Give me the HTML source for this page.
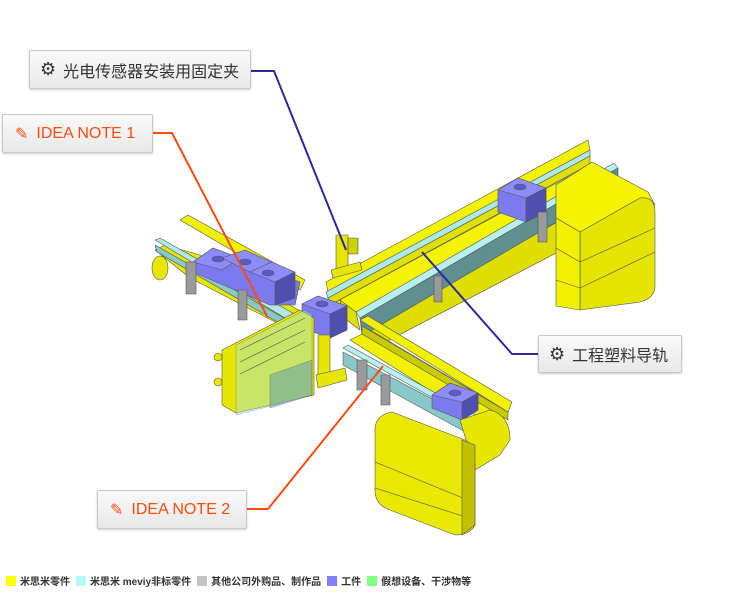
<!DOCTYPE html>
<html><head><meta charset="utf-8">
<style>
html,body{margin:0;padding:0;background:#fff;}
body{width:740px;height:609px;position:relative;overflow:hidden;font-family:"Liberation Sans","Noto Sans CJK SC",sans-serif;}
.box{position:absolute;box-sizing:border-box;border:1px solid #c8c8c8;border-radius:2px;background:linear-gradient(#fafafa,#e8e8e8);box-shadow:0 1px 2px rgba(0,0,0,.2);font-size:16px;color:#333;display:flex;align-items:center;}
.legend{position:absolute;left:6px;top:573px;font-size:10px;font-weight:bold;color:#333;display:flex;align-items:center;white-space:nowrap;}
.legend i{display:inline-block;width:10px;height:10px;margin-right:4px;}
.legend span{margin-right:6px;display:flex;align-items:center;}
</style></head><body>
<svg width="740" height="609" style="position:absolute;left:0;top:0" stroke-linejoin="round">
<g stroke="#555" stroke-width="0.6">
<polygon points="362,332 575,212 585,220 585,238 374,348" fill="#dede00"/>
<polygon points="326,282 588,140 590,150 328,292" fill="#f2f200"/>
<polygon points="326,292 590,150 590,156 328,298" fill="#aee8e8"/>
<polygon points="328,298 590,156 590,164 330,305" fill="#e0e000"/>
<polygon points="336,302 588,166 612,172 356,312" fill="#f4f400"/>
<polygon points="340,300 356,312 360,330 344,318" fill="#e0e000"/>
<polygon points="356,312 614,163 618,168 360,318" fill="#b8f0f0"/>
<polygon points="360,318 618,168 618,186 362,336" fill="#5f8f8f"/>
<polygon points="556,185 592,162 648,192 655,205 580,232 556,218" fill="#f4f400"/>
<path d="M580,232 L640,198 Q655,196 655,212 L655,286 Q655,298 640,302 L580,310 Z" fill="#e4e400"/>
<polygon points="556,218 580,232 580,310 556,306" fill="#f0f000"/>
<polyline points="580,262 655,228" fill="none"/>
<polyline points="580,288 655,252" fill="none"/>
<polyline points="556,248 580,262" fill="none"/>
<polyline points="556,280 580,288" fill="none"/>
<polygon points="498,190 518,178 546,188 546,212 526,222 498,212" fill="#7b7bef"/>
<polygon points="498,190 518,178 546,188 526,198" fill="#8c8cff"/>
<polygon points="526,198 546,188 546,212 526,222" fill="#4f4fb0"/>
<ellipse cx="520" cy="187" rx="6" ry="3" fill="#5a5ac8"/>
<rect x="538" y="212" width="9" height="30" fill="#9a9a9a"/>
<rect x="434" y="276" width="8" height="26" fill="#9a9a9a"/>
<polygon points="180,220 188,215 305,280 300,290" fill="#f0f000"/>
<polygon points="155,250 165,245 200,255 320,322 310,340 190,278" fill="#e6e600"/>
<ellipse cx="160" cy="268" rx="8" ry="12" fill="#e6e600"/>
<polygon points="155,240 160,238 305,320 300,327" fill="#aee8e8"/>
<polygon points="155,245 300,327 300,335 157,252" fill="#88c8c8"/>
<polygon points="193,262 213,248 300,282 295,305 270,305 193,272" fill="#7b7bef"/>
<polygon points="193,262 213,248 240,258 222,270" fill="#8c8cff"/>
<polygon points="222,258 245,250 272,262 250,272" fill="#8c8cff"/>
<polygon points="250,272 272,262 295,272 275,282" fill="#8c8cff"/>
<polygon points="275,282 295,272 295,298 275,305" fill="#4f4fb0"/>
<ellipse cx="218" cy="259" rx="6" ry="3" fill="#5a5ac8"/>
<ellipse cx="245" cy="262" rx="6" ry="3" fill="#5a5ac8"/>
<ellipse cx="268" cy="273" rx="6" ry="3" fill="#5a5ac8"/>
<rect x="186" y="262" width="10" height="32" fill="#9a9a9a"/>
<rect x="238" y="290" width="9" height="30" fill="#9a9a9a"/>
<polygon points="302,304 318,296 347,306 347,330 330,338 302,328" fill="#7b7bef"/>
<polygon points="302,304 318,296 347,306 330,314" fill="#8c8cff"/>
<polygon points="330,314 347,306 347,330 330,338" fill="#4f4fb0"/>
<ellipse cx="322" cy="304" rx="6" ry="3" fill="#5a5ac8"/>
<rect x="336" y="235" width="12" height="35" fill="#e6e600"/>
<rect x="348" y="238" width="10" height="16" fill="#d0d000"/>
<polygon points="331,270 360,262 362,270 333,278" fill="#e6e600"/>
<polygon points="350,340 370,330 505,410 485,425" fill="#f0f000"/>
<polygon points="360,320 368,316 512,402 508,412" fill="#f0f000"/>
<polygon points="362,326 508,412 508,420 362,334" fill="#c9c900"/>
<polygon points="343,348 348,345 485,420 480,424" fill="#b8f0f0"/>
<polygon points="343,352 480,424 480,440 343,365" fill="#88c8c8"/>
<rect x="357" y="360" width="10" height="30" fill="#9a9a9a"/>
<rect x="381" y="375" width="9" height="30" fill="#9a9a9a"/>
<polygon points="432,395 450,383 478,393 478,410 462,420 432,408" fill="#7b7bef"/>
<polygon points="432,395 450,383 478,393 462,402" fill="#8c8cff"/>
<polygon points="462,402 478,393 478,410 462,420" fill="#4f4fb0"/>
<ellipse cx="455" cy="393" rx="6" ry="3" fill="#5a5ac8"/>
<path d="M460,420 L490,410 Q510,415 510,440 L500,455 L475,470 Z" fill="#e6e600"/>
<path d="M375,430 Q375,415 392,412 L465,440 Q475,445 475,465 L475,525 Q470,535 455,535 L390,510 Q375,505 375,490 Z" fill="#e8e800"/>
<polyline points="375,462 475,503" fill="none"/>
<polyline points="375,488 475,520" fill="none"/>
<polygon points="462,440 475,445 475,525 462,535" fill="#c0c000"/>
<polygon points="222,350 300,310 314,318 314,395 236,413 222,405" fill="#e6e600"/>
<polygon points="236,345 305,310 312,314 312,395 236,415" fill="#a8e4e4" opacity="0.45"/>
<polygon points="270,375 312,360 312,395 270,408" fill="#6fa5a5" opacity="0.6"/>
<line x1="240" y1="350" x2="305" y2="318"/>
<line x1="240" y1="362" x2="305" y2="330"/>
<line x1="240" y1="374" x2="305" y2="342"/>
<circle cx="218" cy="357" r="4" fill="#e6e600"/>
<circle cx="218" cy="382" r="4" fill="#e6e600"/>
<rect x="318" y="335" width="12" height="40" fill="#e6e600"/>
<polygon points="316,375 345,368 347,380 318,388" fill="#e6e600"/>
</g>
<polyline points="251,71 274,71 346,250" fill="none" stroke="#2a2a9a" stroke-width="2"/>
<polyline points="153,133 172,133 268,318" fill="none" stroke="#ff4a10" stroke-width="2"/>
<polyline points="538,354 512,354 422,252" fill="none" stroke="#2a2a9a" stroke-width="2"/>
<polyline points="247,509 268,509 383,366" fill="none" stroke="#ff4a10" stroke-width="2"/>
</svg>
<div class="box" style="left:29px;top:50px;width:222px;height:39px;padding-left:10px;"><span style="font-size:18px;margin-right:7px;color:#333">⚙</span>光电传感器安装用固定夹</div>
<div class="box" style="left:2px;top:114px;width:151px;height:39px;padding-left:12px;color:#ff4a10;"><span style="margin-right:8px">✎</span>IDEA NOTE 1</div>
<div class="box" style="left:538px;top:335px;width:144px;height:38px;padding-left:10px;"><span style="font-size:18px;margin-right:7px">⚙</span>工程塑料导轨</div>
<div class="box" style="left:97px;top:490px;width:150px;height:39px;padding-left:12px;color:#ff4a10;"><span style="margin-right:8px">✎</span>IDEA NOTE 2</div>
<div class="legend">
<span><i style="background:#ffff00"></i>米思米零件</span>
<span><i style="background:#b4f8f8"></i>米思米 meviy非标零件</span>
<span><i style="background:#c4c4c4"></i>其他公司外购品、制作品</span>
<span><i style="background:#8080ff"></i>工件</span>
<span><i style="background:#80ff80"></i>假想设备、干涉物等</span>
</div>
</body></html>
